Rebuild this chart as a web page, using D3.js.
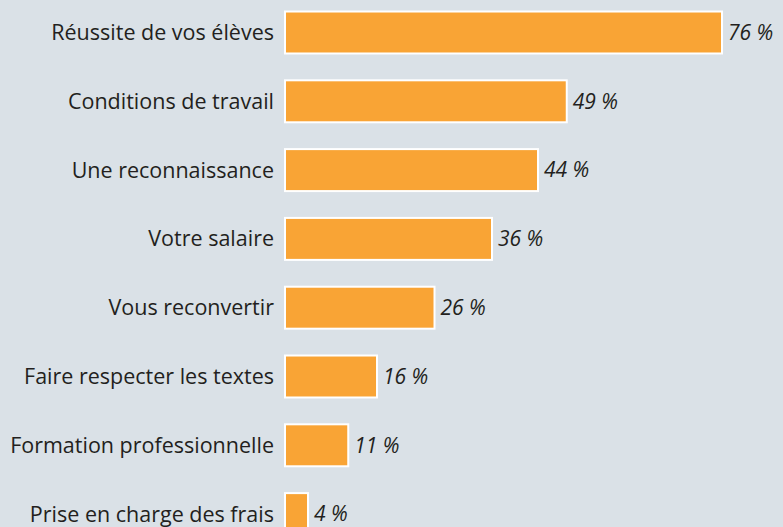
<!DOCTYPE html>
<html>
<head>
<meta charset="utf-8">
<script src="https://cdn.jsdelivr.net/npm/d3@7"></script>
<style>
  html, body { margin: 0; padding: 0; background: #dae1e7; }
  svg { display: block; }
</style>
</head>
<body>
<svg id="chart" width="783" height="527"></svg>
<script>
// categories (top to bottom) and their shares in %
const categories = [
    "Réussite de vos élèves",
    "Conditions de travail",
    "Une reconnaissance",
    "Votre salaire",
    "Vous reconvertir",
    "Faire respecter les textes",
    "Formation professionnelle",
    "Prise en charge des frais"
];
const values = [76, 49, 44, 36, 26, 16, 11, 4];

const W = 783, H = 527;
const FONT = "'Open Sans', 'Noto Sans', sans-serif";

const data = categories.map((c, i) => ({ cat: c, val: values[i] }));

const svg = d3.select("#chart");

svg.append("rect").attr("width", W).attr("height", H).attr("fill", "#dae1e7");

const x = d3.scaleLinear().domain([0, 76]).range([285, 722]);
const y = d3.scaleBand()
    .domain(categories)
    .range([-1.9, 548.5])
    .paddingInner(0.39)
    .paddingOuter(0.195);

const g = svg.append("g");

g.selectAll(".bar").data(data).enter().append("rect")
    .attr("class", "bar")
    .attr("x", x(0))
    .attr("y", d => y(d.cat))
    .attr("width", d => x(d.val) - x(0))
    .attr("height", y.bandwidth())
    .attr("fill", "#f9a435")
    .attr("stroke", "#ffffff")
    .attr("stroke-width", 2);

// category labels, right aligned left of the bars
g.append("g")
    .attr("transform", `translate(${x(0) - 11},0)`)
    .call(d3.axisLeft(y).tickSize(0).tickPadding(0))
    .call(a => a.select(".domain").remove())
    .call(a => a.selectAll("text")
        .attr("fill", "#231f20")
        .attr("font-family", FONT)
        .attr("font-size", 21.5)
        .attr("dy", "0.35em"));

g.selectAll(".val").data(data).enter().append("text")
    .attr("class", "val")
    .attr("x", d => x(d.val) + 6)
    .attr("y", d => y(d.cat) + y.bandwidth() / 2)
    .attr("dy", "0.35em")
    .attr("fill", "#231f20")
    .attr("font-family", FONT)
    .attr("font-style", "italic")
    .attr("font-size", 21)
    .text(d => d.val + " %");
</script>
</body>
</html>
